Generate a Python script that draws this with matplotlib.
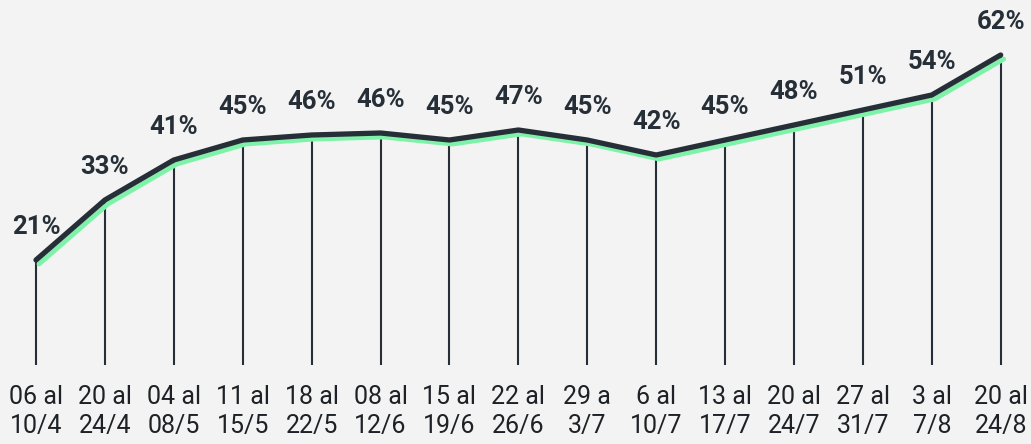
import matplotlib.pyplot as plt
import matplotlib.transforms as mtransforms

periods = ["06 al\n10/4", "20 al\n24/4", "04 al\n08/5", "11 al\n15/5", "18 al\n22/5",
           "08 al\n12/6", "15 al\n19/6", "22 al\n26/6", "29 a\n3/7", "6 al\n10/7",
           "13 al\n17/7", "20 al\n24/7", "27 al\n31/7", "3 al\n7/8", "20 al\n24/8"]
values = [21, 33, 41, 45, 46, 46.4, 45, 47, 45, 42, 45, 48, 51, 54, 62]
labels = ["21%", "33%", "41%", "45%", "46%", "46%", "45%", "47%", "45%", "42%",
          "45%", "48%", "51%", "54%", "62%"]

dark = "#262f37"
green = "#7ff2a9"
bg = "#f3f3f3"

fig = plt.figure(figsize=(10.31, 4.44), dpi=100, facecolor=bg)
ax = fig.add_axes([0, 0, 1, 1])
ax.set_facecolor(bg)
x = list(range(len(values)))

# vertical lines from baseline to each point
ax.vlines(x, 0, values, color=dark, lw=1.5, zorder=1)

# green shadow slightly below/right of the main line
shadow = mtransforms.offset_copy(ax.transData, fig=fig, x=3, y=-4, units="dots")
ax.plot(x, values, color=green, lw=3.5, transform=shadow, zorder=2,
        solid_capstyle="round", solid_joinstyle="round")
ax.plot(x, values, color=dark, lw=3.8, zorder=3,
        solid_capstyle="round", solid_joinstyle="round")

for xi, v, t in zip(x, values, labels):
    ax.annotate(t, (xi, v), xytext=(0, 19), textcoords="offset points",
                ha="center", va="baseline", fontsize=18.5, fontweight="bold",
                color=dark, family="Roboto")

for xi, p in zip(x, periods):
    ax.text(xi, -3.9, p, ha="center", va="top", fontsize=18, color="#1e2226",
            family="Roboto", fontweight="normal", linespacing=1.3)

ax.set_xlim(-0.5225, 14.44)
ax.set_ylim(-15.8, 73)
ax.axis("off")

fig.savefig("out.png", dpi=100, facecolor=bg)
